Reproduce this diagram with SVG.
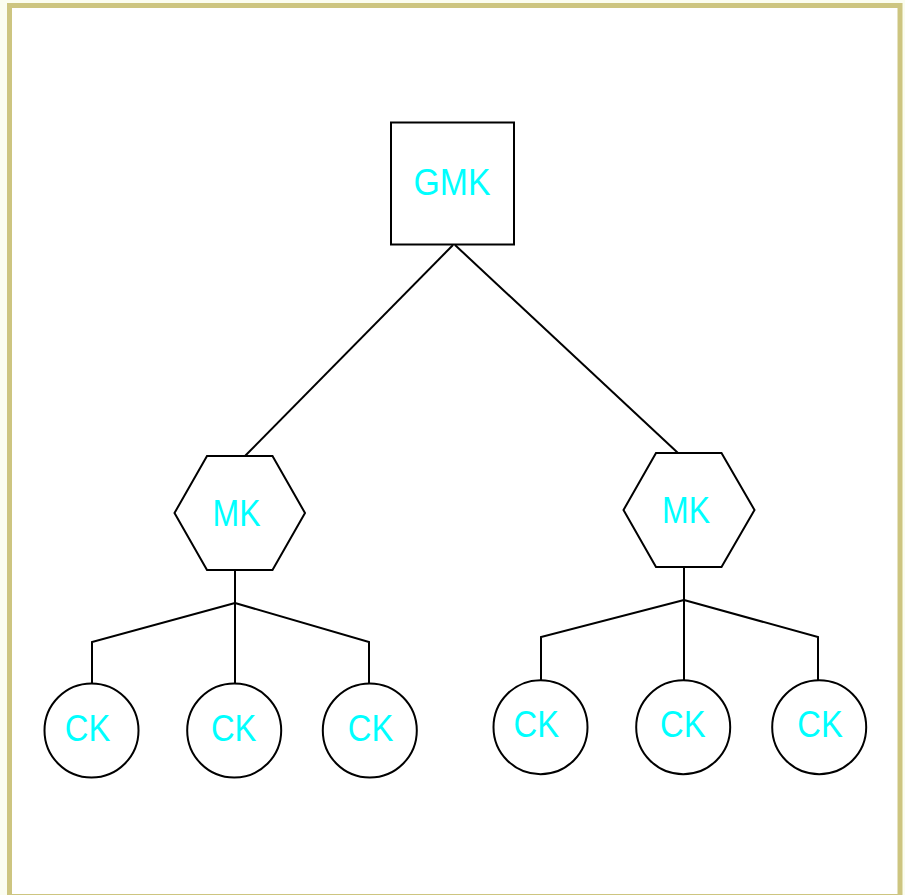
<svg xmlns="http://www.w3.org/2000/svg" width="905" height="895" viewBox="0 0 905 895">
<style>
.shape{fill:#ffffff;stroke:#000000;stroke-width:2}
.conn{fill:none;stroke:#000000;stroke-width:2}
.lbl{font-family:"Liberation Sans",Arial,sans-serif;font-size:36px;fill:#00ffff;text-anchor:middle}
</style>
<rect x="0" y="0" width="905" height="895" fill="#fbfdf0"/>
<rect x="9.5" y="5.5" width="890.5" height="891" fill="#ffffff" stroke="#cdc580" stroke-width="5"/>
<g id="connectors">
<line class="conn" x1="453" y1="245" x2="245" y2="456"/>
<line class="conn" x1="455" y1="245" x2="678" y2="453"/>
<polyline class="conn" points="235,570 235,603 235,683"/>
<polyline class="conn" points="235,603 92,642 92,683"/>
<polyline class="conn" points="235,603 369,642 369,683"/>
<polyline class="conn" points="684,567 684,600 684,680"/>
<polyline class="conn" points="684,600 541,637 541,680"/>
<polyline class="conn" points="684,600 818,637 818,680"/>
</g>
<g id="GMK">
<rect class="shape" x="391" y="122.5" width="123" height="122"/>
<text class="lbl" x="452" y="195" textLength="77" lengthAdjust="spacingAndGlyphs">GMK</text>
</g>
<g id="MK1">
<polygon class="shape" points="207,456 272.5,456 305,513 272.5,570 207,570 174.5,513"/>
<text class="lbl" x="236.5" y="526" textLength="48" lengthAdjust="spacingAndGlyphs">MK</text>
</g>
<g id="MK2">
<polygon class="shape" points="656,453 721.5,453 754.5,510 721.5,567 656,567 623.5,510"/>
<text class="lbl" x="686" y="522.7" textLength="48" lengthAdjust="spacingAndGlyphs">MK</text>
</g>
<g id="CK1">
<circle class="shape" cx="91.5" cy="730.5" r="47"/>
<text class="lbl" x="87.5" y="740.7" textLength="45.5" lengthAdjust="spacingAndGlyphs">CK</text>
</g>
<g id="CK2">
<circle class="shape" cx="234.2" cy="730.5" r="47"/>
<text class="lbl" x="233.7" y="740.7" textLength="45.5" lengthAdjust="spacingAndGlyphs">CK</text>
</g>
<g id="CK3">
<circle class="shape" cx="369.8" cy="730.5" r="47"/>
<text class="lbl" x="370.5" y="740.7" textLength="45.5" lengthAdjust="spacingAndGlyphs">CK</text>
</g>
<g id="CK4">
<circle class="shape" cx="540.5" cy="727.2" r="47"/>
<text class="lbl" x="536.3" y="736.7" textLength="45.5" lengthAdjust="spacingAndGlyphs">CK</text>
</g>
<g id="CK5">
<circle class="shape" cx="683.2" cy="727.2" r="47"/>
<text class="lbl" x="682.8" y="736.7" textLength="45.5" lengthAdjust="spacingAndGlyphs">CK</text>
</g>
<g id="CK6">
<circle class="shape" cx="819.2" cy="727.2" r="47"/>
<text class="lbl" x="820" y="736.7" textLength="45.5" lengthAdjust="spacingAndGlyphs">CK</text>
</g>
</svg>
